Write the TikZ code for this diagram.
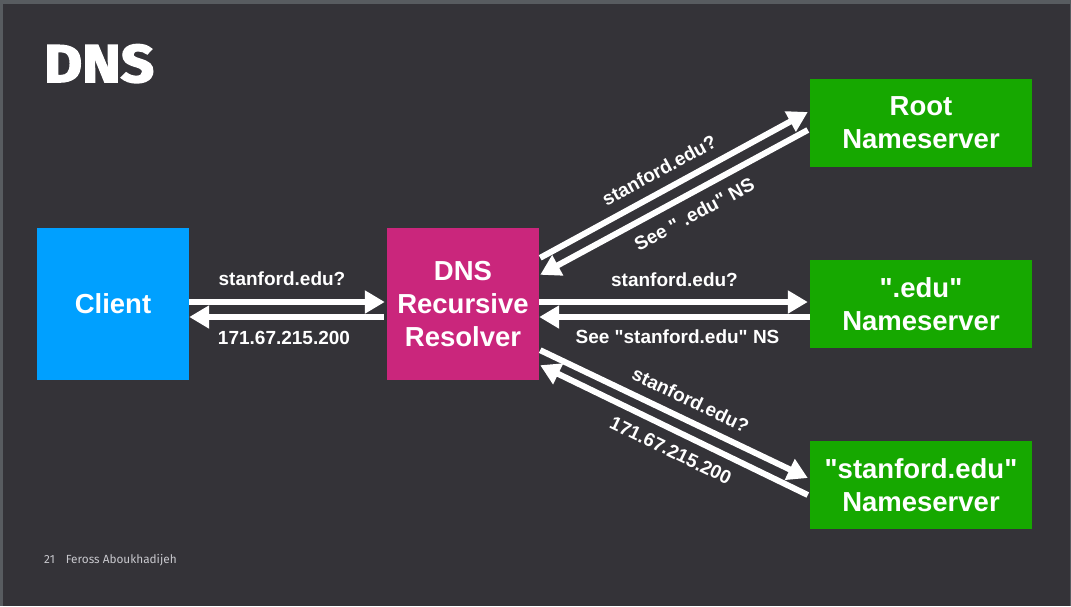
\documentclass[tikz,border=0pt]{standalone}
\usepackage{fontspec}
\setmainfont{Liberation Sans}[Ligatures=TeXOff]
\newfontfamily\titlefont{Fira Sans}[BoldFeatures={FakeBold=3,FakeStretch=1.1}]
\newfontfamily\footfont{Fira Sans}
\usetikzlibrary{arrows.meta,calc}
\definecolor{bgdark}{RGB}{52,51,56}
\definecolor{bgframe}{RGB}{88,92,96}
\definecolor{clientblue}{RGB}{0,160,255}
\definecolor{resolvermag}{RGB}{202,38,124}
\definecolor{nsgreen}{RGB}{22,168,0}
\definecolor{footgray}{RGB}{200,200,205}
\begin{document}
\begin{tikzpicture}[x=1pt,y=-1pt,
  box/.style={draw=none, inner sep=0pt, minimum width=152pt, minimum height=152pt,
    align=center, text=white, font=\fontsize{27.5}{33}\selectfont\bfseries},
  nsbox/.style={box, fill=nsgreen, minimum width=222pt, minimum height=88pt},
  msg/.style={draw=white, line width=6pt, -{Triangle[length=20pt,width=22pt]}},
  lbl/.style={text=white, font=\fontsize{19}{21}\selectfont\bfseries, inner sep=0pt}]
\useasboundingbox (0,0) rectangle (1071,606);
\fill[bgframe] (0,0) rectangle (1071,606);
\fill[bgdark] (3,4) rectangle (1070,606);

\node[anchor=base west, inner sep=0pt, text=white, font=\titlefont\bfseries\fontsize{53}{56}\selectfont] (title) at (44,82) {DNS};
\node[anchor=base west, inner sep=0pt, text=footgray, font=\footfont\fontsize{11.8}{13}\selectfont] (foot) at (44,563) {21\hspace{11pt}Feross Aboukhadijeh};

\node[box, fill=clientblue] (client) at (113,304) {Client};
\node[box, fill=resolvermag] (resolver) at (463,304) {DNS\\Recursive\\Resolver};
\node[nsbox] (root) at (921,122.5) {Root\\Nameserver};
\node[nsbox] (edu) at (921,304) {".edu"\\Nameserver};
\node[nsbox] (stan) at (921,485) {"stanford.edu"\\Nameserver};

% client <-> resolver
\draw[msg, shorten >=2pt] (client.east |- 0,302) -- (resolver.west |- 0,302)
  node[lbl, midway, above=13pt, xshift=-6pt] {stanford.edu?};
\draw[msg, shorten <=3pt] (resolver.west |- 0,317) -- (client.east |- 0,317)
  node[lbl, midway, below=11pt, xshift=-4pt] {171.67.215.200};

% resolver <-> .edu
\draw[msg, shorten >=2pt] (resolver.east |- 0,302) -- (edu.west |- 0,302)
  node[lbl, midway, above=12pt] {stanford.edu?};
\draw[msg] (edu.west |- 0,317) -- (resolver.east |- 0,317)
  node[lbl, midway, below=10pt, xshift=3pt] {See "stanford.edu" NS};

% resolver <-> root
\coordinate (r1s) at ($(resolver.north east)+(1,30)$);
\coordinate (r1e) at ($(root.west)+(-2,-10.5)$);
\coordinate (r2s) at ($(root.west)+(-2,7.5)$);
\coordinate (r2e) at ($(resolver.north east)+(1,47)$);
\draw[msg] (r1s) -- (r1e) node[lbl, pos=0.48, sloped, above=10pt] {stanford.edu?};
\draw[msg] (r2s) -- (r2e) node[lbl, pos=0.46, sloped, below=10pt] {See " .edu" NS};

% resolver <-> stanford.edu
\coordinate (s1s) at ($(resolver.south east)+(1,-30)$);
\coordinate (s1e) at ($(stan.west)+(-2,-7)$);
\coordinate (s2s) at ($(stan.west)+(-2,10)$);
\coordinate (s2e) at ($(resolver.south east)+(1,-15)$);
\draw[msg] (s1s) -- (s1e) node[lbl, pos=0.53, sloped, above=10pt] {stanford.edu?};
\draw[msg] (s2s) -- (s2e) node[lbl, pos=0.48, sloped, below=10pt] {171.67.215.200};
\end{tikzpicture}
\end{document}
